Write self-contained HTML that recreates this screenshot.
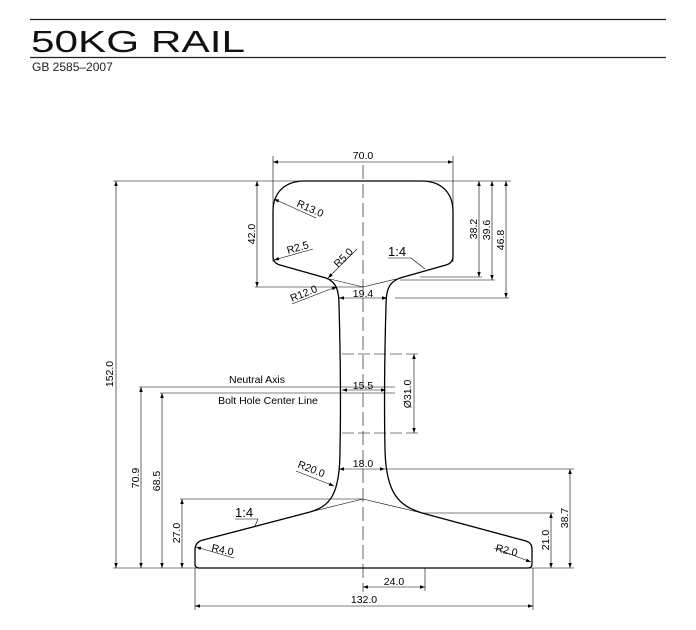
<!DOCTYPE html>
<html><head><meta charset="utf-8"><style>
body{margin:0;background:#fff;}
svg{display:block;font-family:"Liberation Sans",sans-serif;}
</style></head><body>
<svg width="696" height="630" viewBox="0 0 696 630" xmlns="http://www.w3.org/2000/svg">
<defs>
<marker id="a" viewBox="0 0 10 10" refX="10" refY="5" markerWidth="7" markerHeight="5" orient="auto-start-reverse" markerUnits="userSpaceOnUse"><path d="M0,1.5 L10,5 L0,8.5z" fill="#000"/></marker>
</defs>
<line x1="30" y1="19.5" x2="666" y2="19.5" stroke="#222" stroke-width="1.3"/>
<text x="31" y="52" font-size="31" fill="#111" textLength="214" lengthAdjust="spacingAndGlyphs">50KG RAIL</text>
<line x1="30" y1="57.5" x2="666" y2="57.5" stroke="#222" stroke-width="1.3"/>
<text x="32" y="71" font-size="12" fill="#222">GB 2585–2007</text>

<g fill="none" stroke="#000" stroke-width="0.6">
<line x1="363" y1="165" x2="363" y2="592" stroke-dasharray="14,5"/>
<line x1="113" y1="181" x2="511" y2="181"/>
<line x1="113" y1="568" x2="574" y2="568"/>
<line x1="273" y1="156" x2="273" y2="262"/><line x1="453" y1="156" x2="453" y2="262"/>
<line x1="273" y1="162" x2="453" y2="162" marker-start="url(#a)" marker-end="url(#a)"/>
<line x1="116" y1="181" x2="116" y2="568" marker-start="url(#a)" marker-end="url(#a)"/>
<line x1="257" y1="181" x2="257" y2="287" marker-start="url(#a)" marker-end="url(#a)"/>
<line x1="255" y1="287" x2="363" y2="287"/>
<line x1="479" y1="181" x2="479" y2="277" marker-start="url(#a)" marker-end="url(#a)"/>
<line x1="492" y1="181" x2="492" y2="280" marker-start="url(#a)" marker-end="url(#a)"/>
<line x1="506" y1="181" x2="506" y2="298" marker-start="url(#a)" marker-end="url(#a)"/>
<line x1="420" y1="277" x2="482" y2="277"/>
<line x1="400" y1="280" x2="495" y2="280"/>
<line x1="395" y1="298" x2="509" y2="298"/>
<line x1="330" y1="279" x2="363" y2="287"/><line x1="396" y1="279" x2="363" y2="287"/>
<line x1="339" y1="298" x2="387" y2="298" marker-start="url(#a)" marker-end="url(#a)"/>
<line x1="342" y1="354" x2="418" y2="354" stroke-dasharray="12,4"/>
<line x1="342" y1="433" x2="418" y2="433" stroke-dasharray="12,4"/>
<line x1="414" y1="354" x2="414" y2="433" marker-start="url(#a)" marker-end="url(#a)"/>
<line x1="139" y1="387" x2="395" y2="387"/>
<line x1="160" y1="393" x2="395" y2="393"/>
<line x1="342" y1="390" x2="386" y2="390" marker-start="url(#a)" marker-end="url(#a)"/>
<line x1="141" y1="387" x2="141" y2="568" marker-start="url(#a)" marker-end="url(#a)"/>
<line x1="162" y1="393" x2="162" y2="568" marker-start="url(#a)" marker-end="url(#a)"/>
<line x1="180" y1="499" x2="363" y2="499"/>
<line x1="182" y1="499" x2="182" y2="568" marker-start="url(#a)" marker-end="url(#a)"/>
<line x1="310" y1="512" x2="363" y2="499"/><line x1="422" y1="513" x2="363" y2="499"/>
<line x1="339" y1="469" x2="385" y2="469" marker-start="url(#a)" marker-end="url(#a)"/>
<line x1="385" y1="469" x2="574" y2="469"/>
<line x1="570" y1="469" x2="570" y2="568" marker-start="url(#a)" marker-end="url(#a)"/>
<line x1="422" y1="513" x2="554" y2="513"/>
<line x1="551" y1="513" x2="551" y2="568" marker-start="url(#a)" marker-end="url(#a)"/>
<line x1="425" y1="568" x2="425" y2="591"/>
<line x1="363" y1="587" x2="425" y2="587" marker-start="url(#a)" marker-end="url(#a)"/>
<line x1="195" y1="568" x2="195" y2="610"/><line x1="533" y1="568" x2="533" y2="610"/>
<line x1="195" y1="606" x2="533" y2="606" marker-start="url(#a)" marker-end="url(#a)"/>
<!-- radius leaders (underlines) -->
<line x1="274" y1="199" x2="316" y2="218" marker-start="url(#a)"/>
<line x1="274" y1="260" x2="313" y2="249" marker-start="url(#a)"/>
<line x1="328" y1="278" x2="357" y2="249" marker-start="url(#a)"/>
<line x1="292" y1="304" x2="328" y2="290"/>
<line x1="328" y1="290" x2="337" y2="287" marker-end="url(#a)"/>
<line x1="296" y1="471" x2="334" y2="486" marker-end="url(#a)"/>
<line x1="196" y1="547" x2="234" y2="558" marker-start="url(#a)"/>
<line x1="494" y1="548" x2="531" y2="562" marker-end="url(#a)"/>
<line x1="388" y1="258" x2="411" y2="258"/><line x1="411" y1="258" x2="425" y2="269"/>
<line x1="235" y1="519" x2="258" y2="519"/><line x1="258" y1="519" x2="255" y2="526"/>
</g>

<path fill="none" stroke="#000" stroke-width="1.3" d="
M 303 181 L 423 181
C 445 182 453 196 453 212
L 453 256 Q 453 263 446 265
L 400 278 C 388 282 386 292 386 305
C 385 340 384 400 385 450 C 386 495 400 506 422 513
L 526 541 Q 532 543 532 549 L 532 564 Q 532 568 528 568
L 199 568 Q 195 568 195 564 L 195 550 Q 195 542 203 540
L 310 512 C 330 506 340 495 340 450
C 341 400 340 340 339 305 C 339 292 337 282 326 278
L 280 265 Q 273 263 273 256 L 273 212 C 273 196 281 182 303 181 Z"/>

<g font-size="10.5" fill="#000">
<text x="363" y="159" text-anchor="middle">70.0</text>
<text transform="translate(113 374) rotate(-90)" text-anchor="middle">152.0</text>
<text transform="translate(255 234) rotate(-90)" text-anchor="middle">42.0</text>
<text transform="translate(477 229) rotate(-90)" text-anchor="middle">38.2</text>
<text transform="translate(490 230) rotate(-90)" text-anchor="middle">39.6</text>
<text transform="translate(504 240) rotate(-90)" text-anchor="middle">46.8</text>
<text transform="translate(296 206) rotate(24)">R13.0</text>
<text transform="translate(288 254) rotate(-16)">R2.5</text>
<text transform="translate(338 268) rotate(-45)">R5.0</text>
<text transform="translate(292 302) rotate(-22)">R12.0</text>
<text x="363" y="297" text-anchor="middle">19.4</text>
<text x="388" y="256" font-size="13">1:4</text>
<text x="257" y="383" text-anchor="middle">Neutral Axis</text>
<text x="268" y="404" text-anchor="middle">Bolt Hole Center Line</text>
<text x="363" y="389" text-anchor="middle">15.5</text>
<text transform="translate(411 394) rotate(-90)" text-anchor="middle">Ø31.0</text>
<text x="363" y="467" text-anchor="middle">18.0</text>
<text transform="translate(297 467) rotate(22)">R20.0</text>
<text transform="translate(139 478) rotate(-90)" text-anchor="middle">70.9</text>
<text transform="translate(160 481) rotate(-90)" text-anchor="middle">68.5</text>
<text transform="translate(180 533) rotate(-90)" text-anchor="middle">27.0</text>
<text x="235" y="517" font-size="13">1:4</text>
<text transform="translate(211 551) rotate(12)">R4.0</text>
<text transform="translate(495 551) rotate(14)">R2.0</text>
<text transform="translate(549 540) rotate(-90)" text-anchor="middle">21.0</text>
<text transform="translate(568 518) rotate(-90)" text-anchor="middle">38.7</text>
<text x="394" y="585" text-anchor="middle">24.0</text>
<text x="364" y="603" text-anchor="middle">132.0</text>
</g>
</svg>
</body></html>
